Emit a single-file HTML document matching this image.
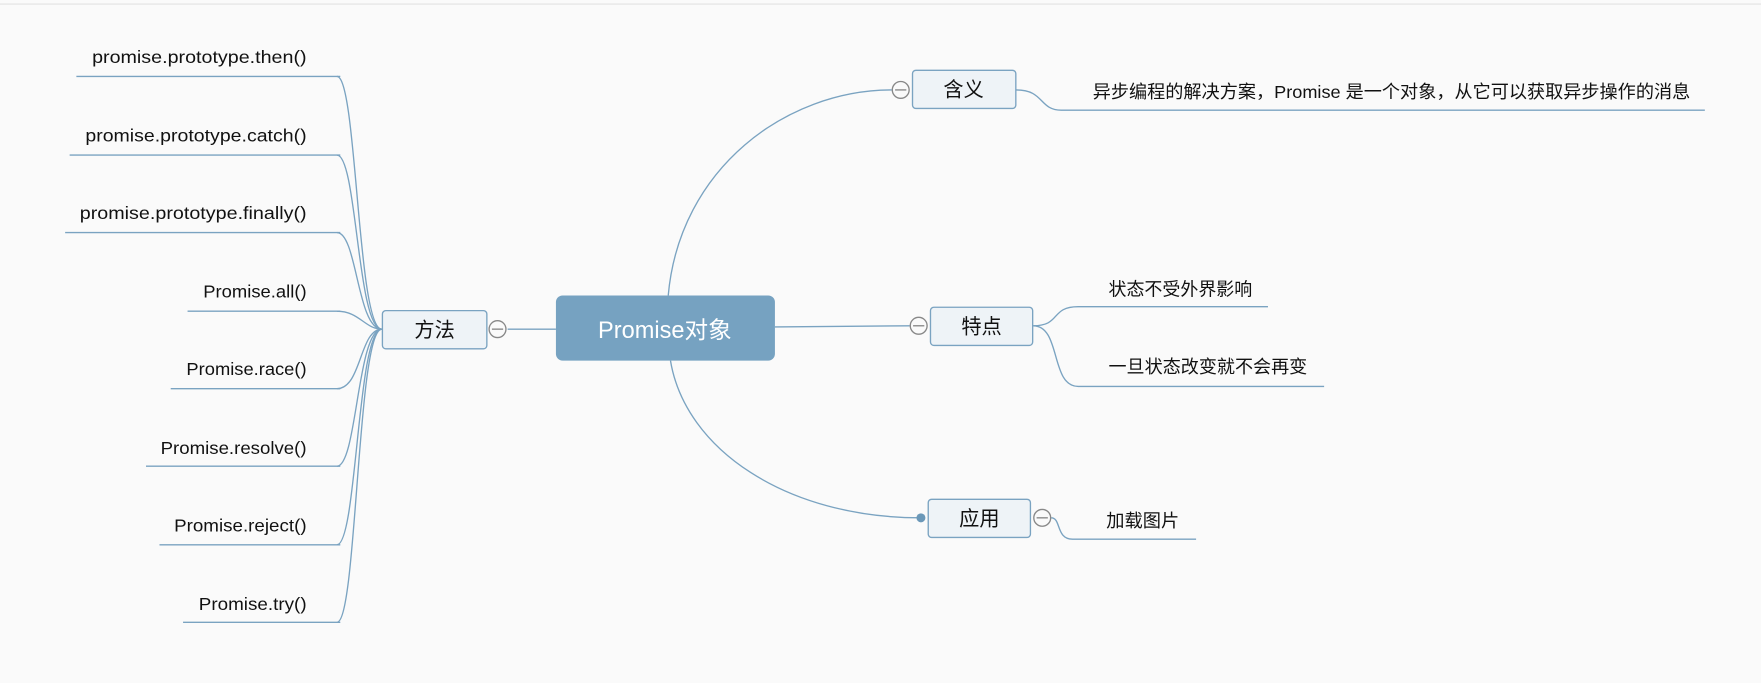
<!DOCTYPE html>
<html><head><meta charset="utf-8"><style>
html,body{margin:0;padding:0;background:#fafafa;width:1761px;height:683px;overflow:hidden}
svg{display:block}
text{font-family:"Liberation Sans","Noto Sans CJK SC",sans-serif;fill:#111}
</style></head><body>
<svg width="1761" height="683" viewBox="0 0 1568 608" xmlns="http://www.w3.org/2000/svg">
<rect width="1568" height="608" fill="#fafafa"/>
<line x1="0" y1="3.5" x2="1568" y2="3.5" stroke="#e2e2e2" stroke-width="1"/>
<g fill="none" stroke="#7aa3c1" stroke-width="1.2">
<path d="M340,293 C318,293 318,68 300,68"/>
<path d="M340,293 C318,293 318,138 300,138"/>
<path d="M340,293 C318,293 318,207 300,207"/>
<path d="M340,293 C325,293 320,277 300,277"/>
<path d="M340,293 C320,293 322,346 300,346"/>
<path d="M340,293 C318,293 318,415 300,415"/>
<path d="M340,293 C318,293 318,485 300,485"/>
<path d="M340,293 C318,293 318,554 300,554"/>
<line x1="68" y1="68" x2="303" y2="68"/>
<line x1="62" y1="138" x2="303" y2="138"/>
<line x1="58" y1="207" x2="303" y2="207"/>
<line x1="167" y1="277" x2="303" y2="277"/>
<line x1="152" y1="346" x2="303" y2="346"/>
<line x1="130" y1="415" x2="303" y2="415"/>
<line x1="142" y1="485" x2="303" y2="485"/>
<line x1="163" y1="554" x2="303" y2="554"/>
<line x1="452" y1="293" x2="495" y2="293"/>
<path d="M595,263 C605,150 700,80 794,80"/>
<line x1="690" y1="291" x2="810" y2="290"/>
<path d="M597,321 C610,400 700,461 820,461"/>
<path d="M905,80 C930,80 925,98 945,98 L1518,98"/>
<path d="M920,290 C945,290 935,273 960,273 L1129,273"/>
<path d="M920,290 C945,290 935,344 960,344 L1179,344"/>
<path d="M936,461 C945,461 940,480 955,480 L1065,480"/>
</g>
<rect x="495" y="263" width="195" height="58" rx="6" fill="#76a2c1"/>
<text x="592" y="301" text-anchor="middle" font-size="21" style="fill:#fff">Promise对象</text>
<g fill="#eef3f7" stroke="#7aa3c1" stroke-width="1.2">
<rect x="340.5" y="276.5" width="93" height="34" rx="3"/>
<rect x="812.5" y="62.5" width="92" height="34" rx="3"/>
<rect x="828.5" y="273.5" width="91" height="34" rx="3"/>
<rect x="826.5" y="444.5" width="91" height="34" rx="3"/>
</g>
<g font-size="18" text-anchor="middle">
<text x="858" y="86">含义</text>
<text x="874" y="297">特点</text>
<text x="872" y="468">应用</text>
<text x="387" y="300">方法</text>
</g>
<g fill="#fafafa" stroke="#888" stroke-width="1.2">
<circle cx="443" cy="293" r="7.5"/><line x1="438" y1="293" x2="448" y2="293"/>
<circle cx="802" cy="80" r="7.5"/><line x1="797" y1="80" x2="807" y2="80"/>
<circle cx="818" cy="290" r="7.5"/><line x1="813" y1="290" x2="823" y2="290"/>
<circle cx="928" cy="461" r="7.5"/><line x1="923" y1="461" x2="933" y2="461"/>
</g>
<circle cx="820" cy="461" r="4" fill="#6b98b8"/>
<g font-size="16" lengthAdjust="spacingAndGlyphs">
<text x="82" y="56" textLength="191" lengthAdjust="spacingAndGlyphs">promise.prototype.then()</text>
<text x="76" y="126" textLength="197" lengthAdjust="spacingAndGlyphs">promise.prototype.catch()</text>
<text x="71" y="195" textLength="202" lengthAdjust="spacingAndGlyphs">promise.prototype.finally()</text>
<text x="181" y="265" textLength="92" lengthAdjust="spacingAndGlyphs">Promise.all()</text>
<text x="166" y="334" textLength="107" lengthAdjust="spacingAndGlyphs">Promise.race()</text>
<text x="143" y="404" textLength="130" lengthAdjust="spacingAndGlyphs">Promise.resolve()</text>
<text x="155" y="473" textLength="118" lengthAdjust="spacingAndGlyphs">Promise.reject()</text>
<text x="177" y="543" textLength="96" lengthAdjust="spacingAndGlyphs">Promise.try()</text>
<text x="973" y="87" textLength="532" lengthAdjust="spacingAndGlyphs">异步编程的解决方案，Promise 是一个对象，从它可以获取异步操作的消息</text>
<text x="987" y="263" textLength="128" lengthAdjust="spacingAndGlyphs">状态不受外界影响</text>
<text x="987" y="332" textLength="177" lengthAdjust="spacingAndGlyphs">一旦状态改变就不会再变</text>
<text x="985" y="469" textLength="65" lengthAdjust="spacingAndGlyphs">加载图片</text>
</g>
</svg>
</body></html>
